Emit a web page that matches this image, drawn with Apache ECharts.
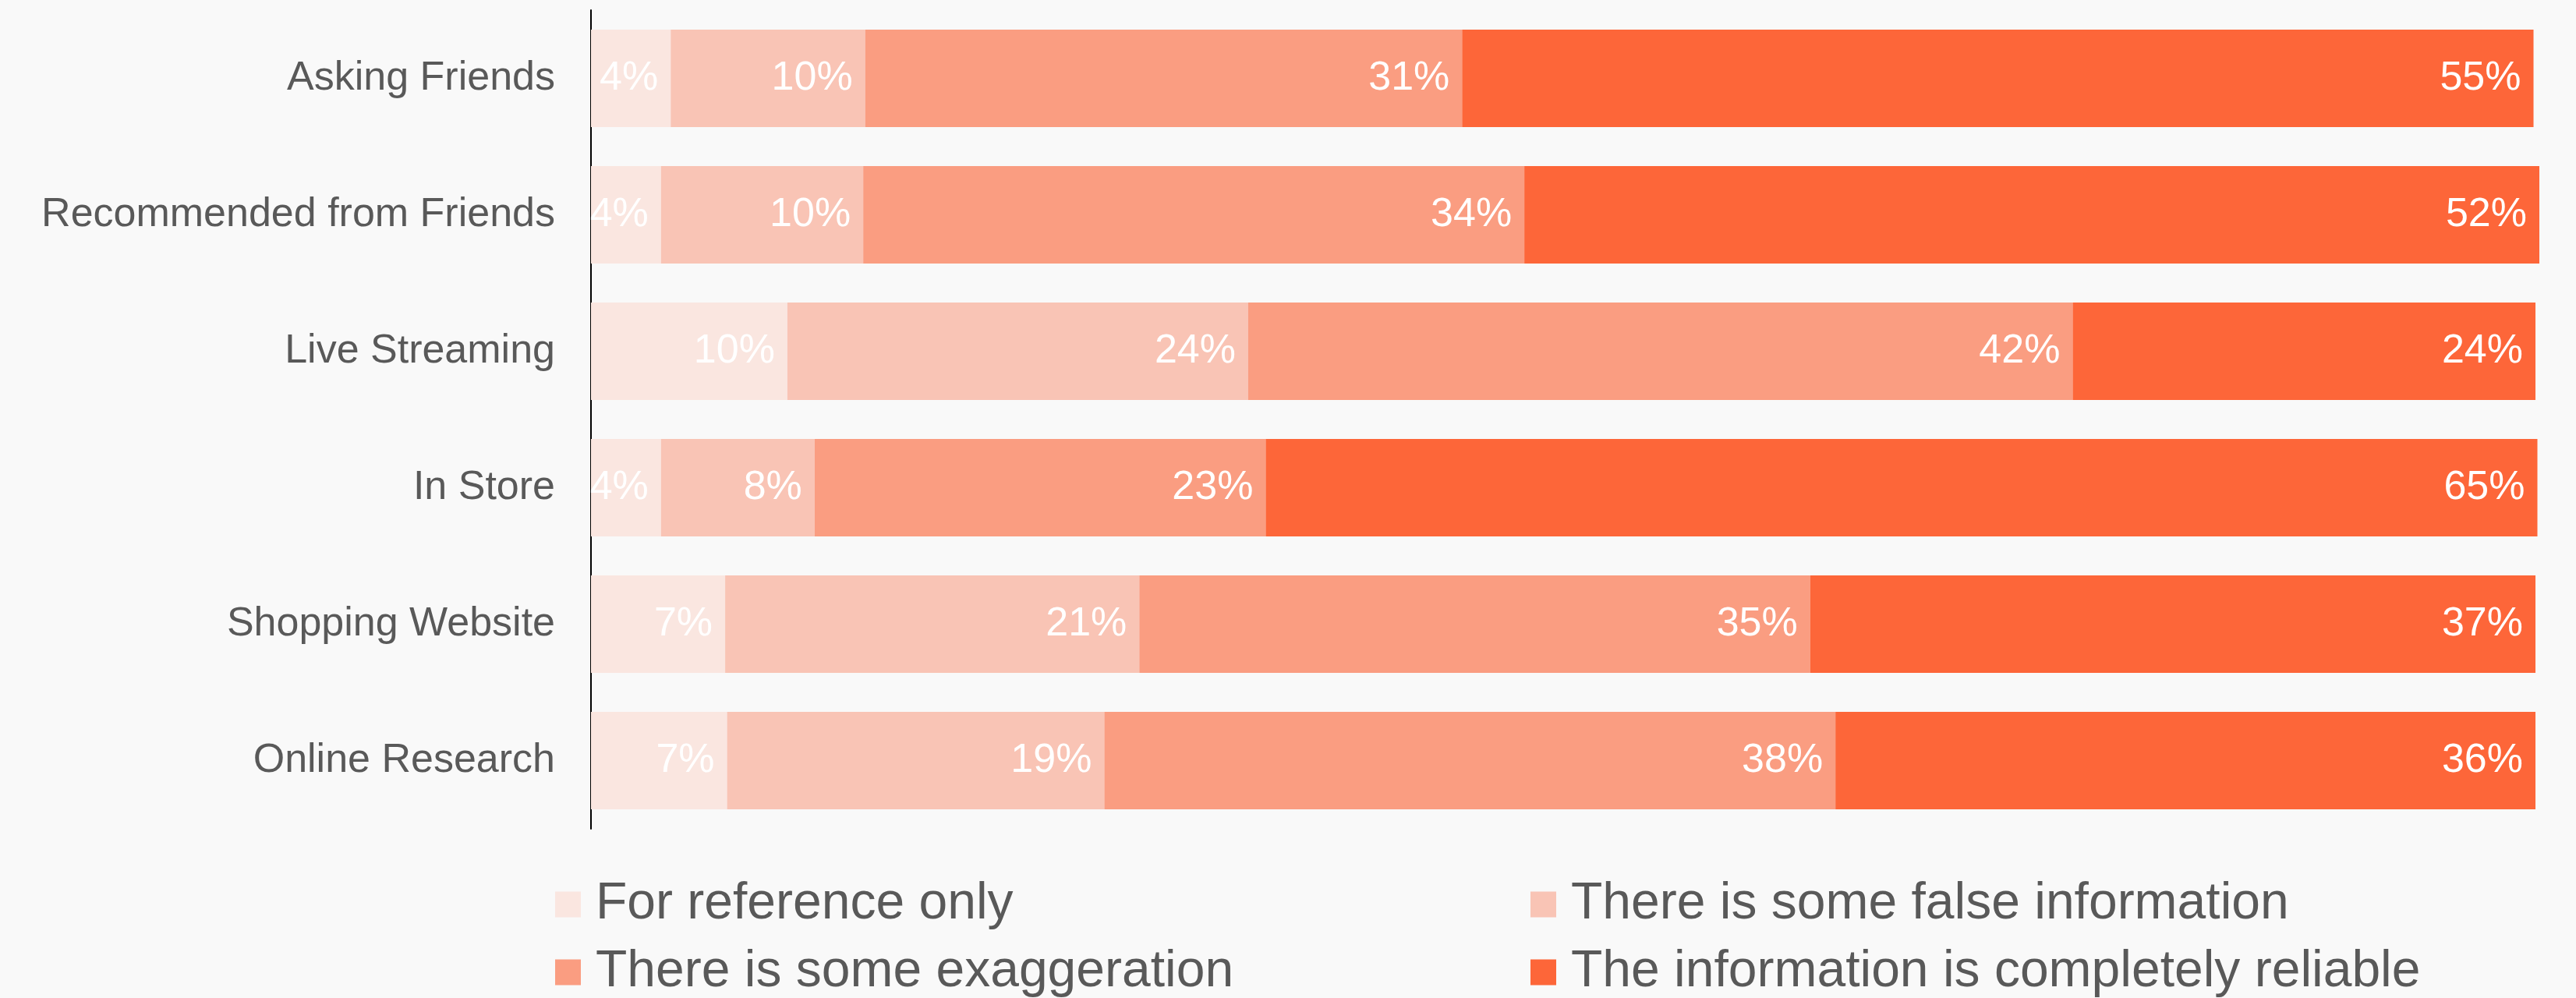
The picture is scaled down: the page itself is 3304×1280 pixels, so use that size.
<!DOCTYPE html>
<html>
<head>
<meta charset="utf-8">
<title>Information reliability by channel</title>
<script src="https://cdn.jsdelivr.net/npm/echarts@6/dist/echarts.min.js"></script>
<style>
    html, body { margin: 0; padding: 0; background: #f9f9f9; }
    #chart { width: 3304px; height: 1280px; }
</style>
</head>
<body>
<div id="chart"></div>
<script>
// 渠道
const categories = ['Asking Friends', 'Recommended from Friends', 'Live Streaming', 'In Store', 'Shopping Website', 'Online Research']
// 图例
const seriesNames = ['For reference only', 'There is some false information', 'There is some exaggeration', 'The information is completely reliable']
// 各段占比 (%)
const referenceOnly = [4.1, 3.6, 10.1, 3.6, 6.9, 7.0]
const someFalse = [10.0, 10.4, 23.7, 7.9, 21.3, 19.4]
const exaggeration = [30.7, 34.0, 42.4, 23.2, 34.5, 37.6]
const reliable = [55.1, 52.2, 23.8, 65.4, 37.3, 36.0]

const colors = ['#fae6e0', '#f9c4b5', '#fa9d81', '#fd6639']
const fontFamily = "'Liberation Sans', Arial, sans-serif"

const chartInstance = echarts.init(document.getElementById('chart'))

const makeSeries = (name, data, i) => ({
    name,
    type: 'bar',
    stack: 'total',
    data,
    barWidth: 125,
    itemStyle: { color: colors[i] },
    label: {
        show: true,
        position: 'insideRight',
        distance: 16,
        color: '#fff',
        fontSize: 52,
        fontFamily,
        formatter: p => Math.round(p.value) + '%'
    }
})

// 图例: 两列两行, 每项单独放置
const legendPos = [
    { left: 712, top: 1127 },
    { left: 1963, top: 1127 },
    { left: 712, top: 1214 },
    { left: 1963, top: 1214 }
]
const makeLegend = (name, i) => ({
    left: legendPos[i].left,
    top: legendPos[i].top,
    itemWidth: 33,
    itemHeight: 33,
    icon: 'rect',
    padding: 0,
    data: [name],
    textStyle: {
        color: '#595959',
        fontSize: 66,
        lineHeight: 66,
        fontFamily,
        padding: [0, 0, 0, 14]
    }
})

const option = {
    backgroundColor: '#f9f9f9',
    animation: false,
    grid: {
        left: 758,
        right: 47,
        top: 13,
        bottom: 217
    },
    xAxis: {
        type: 'value',
        min: 0,
        max: 100.2,
        show: false
    },
    yAxis: {
        type: 'category',
        inverse: true,
        data: categories,
        axisLine: { show: true, lineStyle: { color: '#000', width: 2 } },
        axisTick: { show: false },
        axisLabel: {
            color: '#595959',
            fontSize: 52,
            fontFamily,
            margin: 46
        }
    },
    legend: seriesNames.map(makeLegend),
    series: [
        makeSeries(seriesNames[0], referenceOnly, 0),
        makeSeries(seriesNames[1], someFalse, 1),
        makeSeries(seriesNames[2], exaggeration, 2),
        makeSeries(seriesNames[3], reliable, 3)
    ]
}

chartInstance.setOption(option)
</script>
</body>
</html>
